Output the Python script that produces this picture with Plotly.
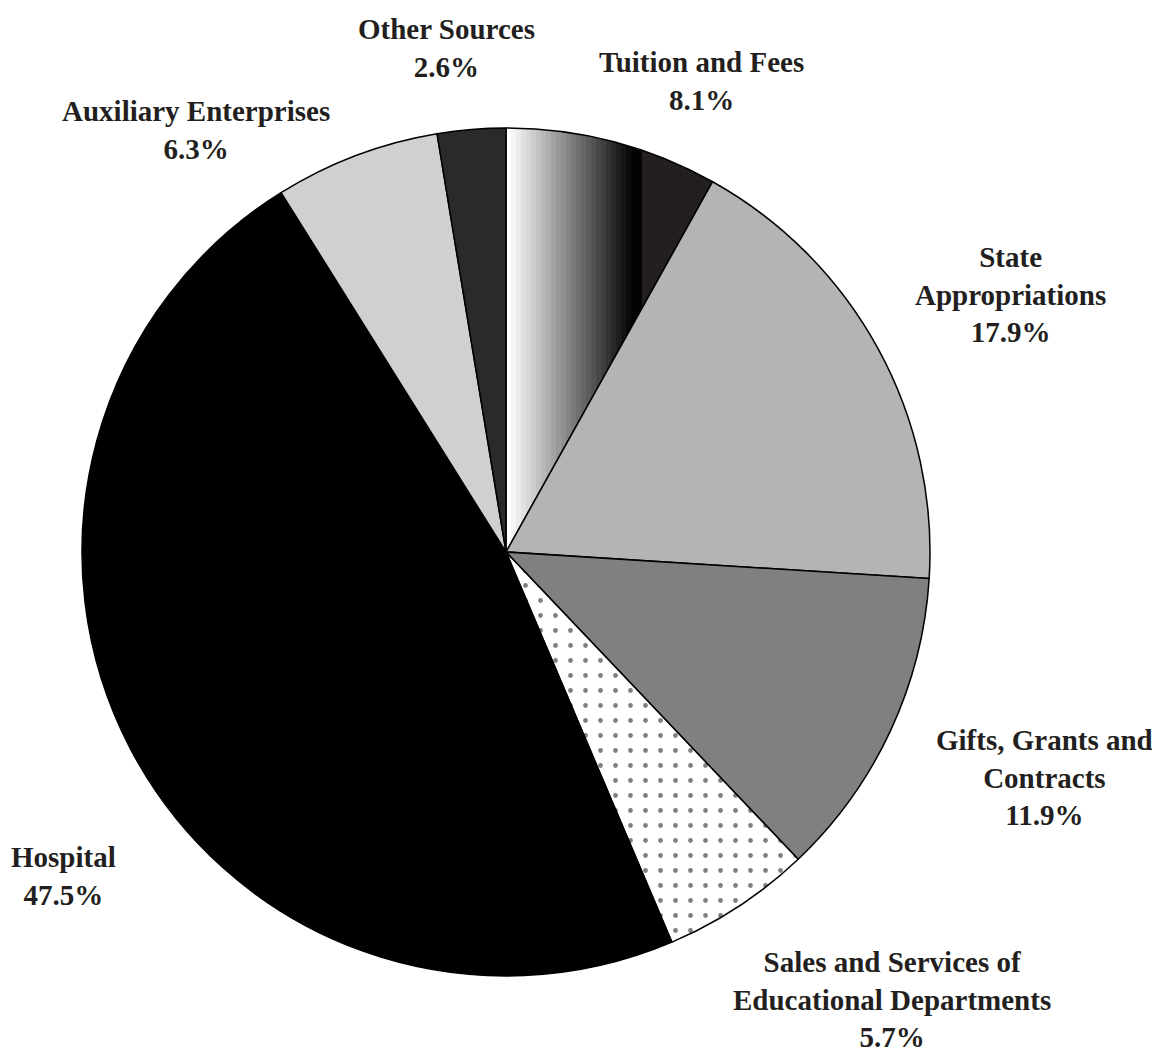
import numpy as np
import plotly.graph_objects as go

# ---- data ----
categories = ["Tuition and Fees", "State Appropriations", "Gifts, Grants and Contracts",
              "Sales and Services of Educational Departments", "Hospital",
              "Auxiliary Enterprises", "Other Sources"]
display_names = ["Tuition and Fees", "State<br>Appropriations", "Gifts, Grants and<br>Contracts",
                 "Sales and Services of<br>Educational Departments", "Hospital",
                 "Auxiliary Enterprises", "Other Sources"]
values = [8.1, 17.9, 11.9, 5.7, 47.5, 6.3, 2.6]

# ---- style ----
slice_colors = ["rgba(0,0,0,0)", "#b4b4b4", "#808080", "#ffffff", "#000000", "#d0d0d0", "#2a2a2a"]
slice_patterns = ["", "", "", ".", "", "", ""]
OFF = 8                              # page body margin in the browser
W, H = 1160 - OFF, 1053 - OFF
CX, CY, R = 506 - OFF, 552 - OFF, 424    # pie centre / radius in figure pixels
dom_x = [(CX - R) / W, (CX + R) / W]
dom_y = [(H - CY - R) / H, (H - CY + R) / H]

# label anchor positions (window pixels, centre of text block)
label_pos = [(701, 81), (1010, 295), (1044, 777), (892, 999), (63, 876), (196, 130), (446, 48)]

fig = go.Figure()

# gradient fill of the first slice, drawn as a masked heatmap under the (transparent) pie slice
tot = sum(values)
end_deg = values[0] / tot * 360.0
xs = np.linspace(0, 0.6, 300)
ys = np.linspace(0, 1.0, 500)
XX, YY = np.meshgrid(xs, ys)
ang = np.degrees(np.arctan2(XX, YY))
rr = np.hypot(XX, YY)
inside = (ang >= 0) & (ang <= end_deg) & (rr <= 1.0)
dx_px = XX * R
grad_px, black_px, band = 124.0, 136.0, 5.0
g = np.clip(np.floor(dx_px / band) * band / grad_px, 0, 1) * 0.98
z = np.where(dx_px > black_px, 2.0, g)
z = np.where(inside, z, np.nan)

fig.add_trace(go.Heatmap(
    x=xs, y=ys, z=z, zmin=0, zmax=2, zsmooth=False, showscale=False, hoverinfo="skip",
    colorscale=[[0, "#ffffff"], [0.495, "#000000"], [0.5, "#231f20"], [1, "#231f20"]],
    xaxis="x", yaxis="y",
))

fig.add_trace(go.Pie(
    labels=categories, values=values, sort=False, direction="clockwise", rotation=0,
    textinfo="none", hoverinfo="label+percent", showlegend=False,
    domain=dict(x=dom_x, y=dom_y),
    marker=dict(colors=slice_colors, line=dict(color="#000000", width=1.5),
                pattern=dict(shape=slice_patterns, fgcolor="#000000", bgcolor="#ffffff",
                             size=15, solidity=0.08, fillmode="overlay")),
))

annotations = []
for name, v, (px, py) in zip(display_names, values, label_pos):
    annotations.append(dict(
        text=f"{name}<br>{v:.1f}%", x=(px - OFF) / W, y=1 - (py - OFF) / H,
        xref="paper", yref="paper",
        xanchor="center", yanchor="middle", showarrow=False, align="center",
        font=dict(family="Liberation Serif", size=29, color="#231f20", weight="bold"),
    ))

fig.update_layout(
    width=W, height=H, margin=dict(l=0, r=0, t=0, b=0),
    paper_bgcolor="white", plot_bgcolor="white",
    xaxis=dict(domain=dom_x, range=[-1, 1], visible=False, fixedrange=True),
    yaxis=dict(domain=dom_y, range=[-1, 1], visible=False, fixedrange=True),
    annotations=annotations,
)

fig.write_html("out.html")
